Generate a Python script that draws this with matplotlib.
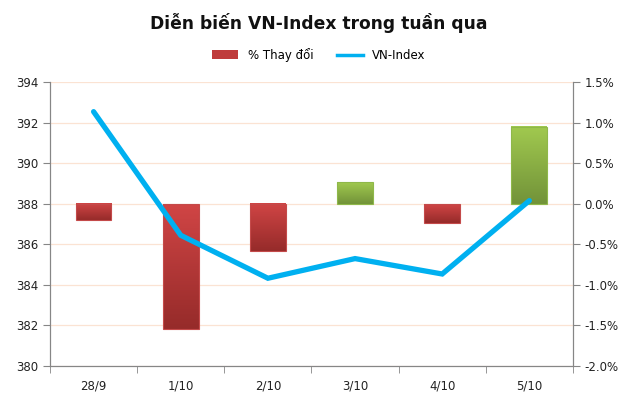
import matplotlib
matplotlib.use("Agg")
import matplotlib.pyplot as plt
import matplotlib.ticker as mticker
from matplotlib.colors import LinearSegmentedColormap
from matplotlib.lines import Line2D
from matplotlib.patches import Patch
import numpy as np

plt.rcParams['font.family'] = ['DejaVu Sans']

# data
days = ['28/9', '1/10', '2/10', '3/10', '4/10', '5/10']
pct_change = [-0.20, -1.54, -0.58, 0.27, -0.23, 0.95]   # in %
vn_index = [392.55, 386.45, 384.33, 385.3, 384.54, 388.16]

x = np.arange(len(days))

fig = plt.figure(figsize=(6.38, 4.11), dpi=100)
ax = fig.add_axes([0.0784, 0.1095, 0.8196, 0.6903])
ax2 = ax.twinx()

# bars (right axis) behind the line (left axis)
ax.set_zorder(ax2.get_zorder() + 1)
ax.patch.set_visible(False)

red_cm = LinearSegmentedColormap.from_list('r', ['#d04545', '#962b2a'])
green_cm = LinearSegmentedColormap.from_list('g', ['#a1c94f', '#729339'])

bars = ax2.bar(x, pct_change, width=0.41, color='none', zorder=2)
for b, v in zip(bars, pct_change):
    cm = green_cm if v > 0 else red_cm
    bx, by = b.get_x(), b.get_y()
    bw, bh = b.get_width(), b.get_height()
    lo, hi = min(by, by + bh), max(by, by + bh)
    grad = np.linspace(0, 1, 100).reshape(-1, 1)
    ax2.imshow(grad, cmap=cm, aspect='auto', extent=[bx, bx + bw, lo, hi],
               origin='upper', zorder=2)
    edge = '#8fb84a' if v > 0 else '#c44a4a'
    ax2.bar(b.get_x() + bw / 2, v, width=bw, color='none', edgecolor=edge,
            linewidth=0.8, zorder=3)

ax.plot(x, vn_index, color='#00b0f0', linewidth=3.8, solid_capstyle='round',
        solid_joinstyle='miter', zorder=5)

ax.set_xlim(-0.5, len(days) - 0.5)
ax.set_ylim(380, 394)
ax.set_yticks(np.arange(380, 395, 2))
ax2.set_ylim(-2.0, 1.5)
ax2.set_yticks(np.arange(-2.0, 1.51, 0.5))
ax2.yaxis.set_major_formatter(mticker.FuncFormatter(lambda v, p: f'{v:.1f}%'))

ax2.grid(axis='y', color='#fbe3d3', linewidth=0.9)
ax2.set_axisbelow(True)

ax.set_xticks(x)
ax.set_xticklabels(days)
ax.set_xticks(np.arange(-0.5, len(days)), minor=True)
ax.tick_params(axis='x', which='major', length=0, pad=10)
ax.tick_params(axis='x', which='minor', length=5, color='#868686', direction='out')

for a in (ax, ax2):
    a.spines['top'].set_visible(False)
    for s in ('left', 'right', 'bottom'):
        a.spines[s].set_color('#868686')
    a.tick_params(axis='y', colors='#868686', labelcolor='#222222', labelsize=8.5, length=5)
    a.tick_params(axis='x', labelcolor='#222222', labelsize=8.5)

fig.text(0.5, 0.945, 'Diễn biến VN-Index trong tuần qua', ha='center', va='center',
         fontsize=12.3, fontweight='bold', color='#111111')

handles = [Patch(facecolor='#bf3b3b', edgecolor='none'),
           Line2D([0], [0], color='#00b0f0', linewidth=2.5)]
fig.legend(handles, ['% Thay đổi', 'VN-Index'], loc='center', bbox_to_anchor=(0.5, 0.866),
           ncol=2, frameon=False, fontsize=8.5, handlelength=2.2, handleheight=0.8,
           columnspacing=2.0)

fig.savefig('out.png', dpi=100)
